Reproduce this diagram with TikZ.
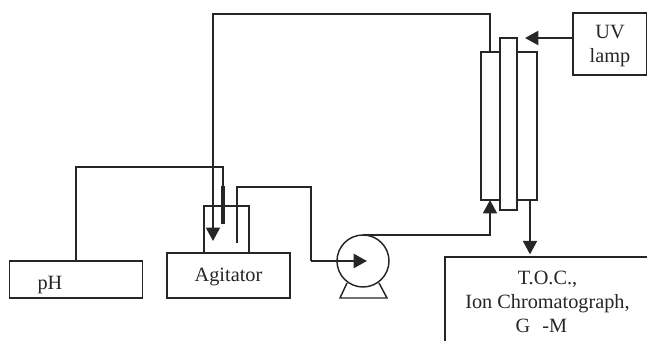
\documentclass[tikz,border=0pt]{standalone}
\usepackage{fontspec}
\setmainfont{Liberation Serif}
\usetikzlibrary{arrows.meta}

\tikzset{
    unit/.style={draw, fill=white, outer sep=0pt, align=center, font=\fontsize{15.2}{18}\selectfont},
    wire/.style={line width=1.1pt},
    thickwire/.style={line width=1.8pt}
}

\begin{document}
\begin{tikzpicture}[x=0.75pt, y=-0.75pt, >={Triangle[length=10pt,width=10.5pt]}, line width=1.1pt, color=black!85]
    \clip (0,0) rectangle (647,341);

    % Nodes {units}
    \node [unit, minimum width=92.25pt, minimum height=33.75pt, text height=9.5pt, text depth=0pt]  (agitator) at (228.5,275.5) {Agitator};
    \node [unit, minimum width=33.75pt, minimum height=35.25pt]  (beaker)   at (226.5,229.5) {};
    \node [unit, minimum width=99.75pt, minimum height=27.75pt]  (ph)       at (76,279.5)    {};
    \node [font=\fontsize{15.2}{18}\selectfont]                  (phlabel)  at (50,285)      {pH};
    \node [unit, circle, minimum size=39pt, inner sep=0pt]       (pump)     at (363,261)     {};
    \node [unit, minimum width=42pt, minimum height=111pt]       (reactor)  at (509,126)     {};
    \node [unit, minimum width=12.75pt, minimum height=129pt]    (tube)     at (508.5,124)   {};
    \node [unit, minimum width=55.5pt, minimum height=46.5pt, text depth=-2.5pt] (lamp)     at (610,44)      {UV\\lamp};
    \node [unit, minimum width=153.75pt, minimum height=67.5pt, text depth=0pt]  (analyser) at (547.5,302)   {T.O.C.,\\Ion Chromatograph,\\G\hspace{.6em}-M\hspace*{.6em}};
    \node [draw, fill, minimum width=2.5pt, minimum height=27pt, inner sep=0pt, outer sep=0pt] (probe) at (223,205) {};

    % Free ends
    \coordinate (corner)  at (490,14);
    \coordinate (return)  at (213,241);
    \coordinate (dip)     at (237,243);
    \coordinate (riser)   at (311,187);
    \coordinate (pumpin)  at (367,261);
    \coordinate (cable)   at (223,167);
    \coordinate (beam)    at (525,38);
    \coordinate (outlet)  at (530,200);

    % Pump base
    \draw [wire] (347,283) -- (340,298) -- (387,298) -- (379,283);

    % Paths
    \draw [wire] (ph.north) |- (cable) -- (probe.north);
    \draw [wire] (dip) |- (riser) -- (riser |- pumpin);
    \draw [thickwire, ->] (riser |- pumpin) -- (pumpin);
    \draw [wire, ->] (reactor.north -| corner) -- (corner) -| (return);
    \draw [wire, ->] (pump.north) -| (reactor.south -| corner);
    \draw [thickwire, ->] (lamp.west |- beam) -- (beam);
    \draw [wire, ->, shorten >=2pt] (outlet) -- (outlet |- analyser.north);
\end{tikzpicture}
\end{document}
